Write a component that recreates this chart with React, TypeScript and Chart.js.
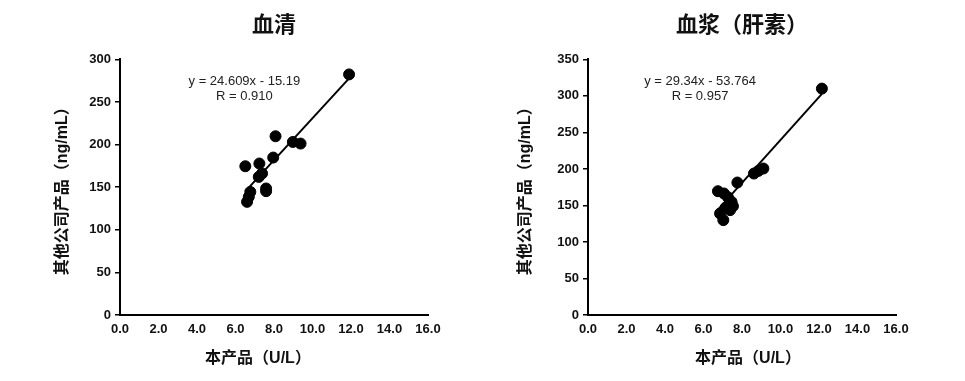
import React, { useEffect, useRef } from "react";
import { Chart, registerables } from "chart.js";

Chart.register(...registerables);

// ---- Data ----
const serumX = [6.51, 7.24, 8.08, 8.98, 9.38, 7.96, 7.38, 7.21, 7.59, 7.59, 6.77, 6.69, 6.6, 11.9];
const serumY = [174.6, 177.8, 209.8, 203.1, 201.2, 184.8, 166.1, 162.1, 148.5, 145.3, 144.5, 138.6, 132.8, 282.4];
const serumSlope = 24.609;
const serumIntercept = -15.19;
const serumEquation = "y = 24.609x - 15.19";
const serumR = "R = 0.910";

const plasmaX = [6.75, 7.06, 7.27, 7.46, 7.15, 7.38, 7.53, 6.86, 7.03, 7.76, 8.62, 8.85, 9.11, 12.15];
const plasmaY = [169.5, 166.4, 161.3, 154.9, 147, 143.6, 149, 139, 129.9, 181.4, 193.7, 197.3, 200.6, 310];
const plasmaSlope = 29.34;
const plasmaIntercept = -53.764;
const plasmaEquation = "y = 29.34x - 53.764";
const plasmaR = "R = 0.957";

const xMin = 0;
const xMax = 16;
const xStep = 2;
const yStep = 50;
const serumYMax = 300;
const plasmaYMax = 350;

const serumTitle = "血清";
const plasmaTitle = "血浆（肝素）";
const xTitle = "本产品（U/L）";
const yTitle = "其他公司产品（ng/mL）";

const FONT = "'Liberation Sans', 'Noto Sans CJK SC', Arial, sans-serif";
const TEXT = "#111";

const eqLabelPlugin = {
  id: "eqLabel",
  afterDatasetsDraw(chart: any, _args: any, opts: any) {
    if (!opts || !opts.lines) return;
    const { ctx, scales, chartArea } = chart;
    const xs = scales.x;
    const ys = scales.y;
    ctx.save();
    ctx.font = `13px ${FONT}`;
    ctx.fillStyle = "#222";
    ctx.textAlign = "center";
    ctx.textBaseline = "middle";
    opts.lines.forEach((t: string, i: number) => {
      ctx.fillText(t, xs.getPixelForValue(opts.x), ys.getPixelForValue(opts.y[i]));
    });
    // x-axis title, placed below the tick labels
    ctx.font = `bold 16px ${FONT}`;
    ctx.fillStyle = TEXT;
    ctx.fillText(opts.xTitle, (chartArea.left + chartArea.right) / 2 + opts.xTitleShift, chart.height - 22);
    ctx.restore();
  },
};

type Props = {
  title: string;
  xs: number[];
  ys: number[];
  slope: number;
  intercept: number;
  lines: string[];
  labelX: number;
  labelY: number[];
  yMax: number;
  left: number;
  width: number;
  padRight: number;
  yScaleWidth: number;
  yTitlePad: number;
  xTitleShift: number;
};

function Scatter(p: Props) {
  const ref = useRef<HTMLCanvasElement | null>(null);
  useEffect(() => {
    if (!ref.current) return;
    const pts = p.xs.map((x, i) => ({ x, y: p.ys[i] }));
    const lo = Math.min(...p.xs);
    const hi = Math.max(...p.xs);
    const trend = [
      { x: lo, y: p.slope * lo + p.intercept },
      { x: hi, y: p.slope * hi + p.intercept },
    ];
    const tickFont = { family: FONT, size: 13, weight: "bold" as const };
    const titleFont = { family: FONT, size: 16, weight: "bold" as const };
    const chart = new Chart(ref.current, {
      type: "scatter",
      data: {
        datasets: [
          {
            data: trend,
            showLine: true,
            borderColor: "#000",
            borderWidth: 2,
            pointRadius: 0,
            pointHoverRadius: 0,
          } as any,
          {
            data: pts,
            backgroundColor: "#000",
            borderColor: "#000",
            pointRadius: 5.5,
            pointHoverRadius: 5.5,
          },
        ],
      },
      options: {
        responsive: false,
        animation: false,
        layout: { padding: { left: 0, right: p.padRight, top: 0, bottom: 0 } },
        plugins: {
          legend: { display: false },
          tooltip: { enabled: false },
          title: {
            display: true,
            text: p.title,
            fullSize: false,
            color: TEXT,
            font: { family: FONT, size: 22, weight: "bold" },
            padding: { top: 13, bottom: 20 },
          },
          eqLabel: { lines: p.lines, x: p.labelX, y: p.labelY, xTitle, xTitleShift: p.xTitleShift },
        } as any,
        scales: {
          x: {
            type: "linear",
            min: xMin,
            max: xMax,
            ticks: {
              stepSize: xStep,
              autoSkip: false,
              maxRotation: 0,
              color: TEXT,
              font: tickFont,
              padding: 7,
              callback: (v: any) => Number(v).toFixed(1),
            },
            grid: { drawOnChartArea: false, drawTicks: false },
            border: { display: true, color: "#000", width: 2 },
            title: { display: false },
            afterFit: (s: any) => {
              s.height = 66;
            },
          },
          y: {
            type: "linear",
            min: 0,
            max: p.yMax,
            ticks: { stepSize: yStep, color: TEXT, font: tickFont, padding: 4 },
            grid: { drawOnChartArea: false, drawTicks: true, tickLength: 5, color: "#000", lineWidth: 1.5 },
            border: { display: true, color: "#000", width: 2 },
            title: {
              display: true,
              text: yTitle,
              color: TEXT,
              font: titleFont,
              padding: { top: p.yTitlePad, bottom: 0 },
            },
            afterFit: (s: any) => {
              s.width = p.yScaleWidth;
            },
          },
        },
      },
      plugins: [eqLabelPlugin],
    });
    return () => chart.destroy();
  }, []);
  return (
    <canvas
      ref={ref}
      width={p.width}
      height={381}
      style={{ position: "absolute", left: p.left, top: 0, width: p.width, height: 381 }}
    />
  );
}

export default function App() {
  return (
    <div style={{ position: "fixed", left: 0, top: 0, width: 965, height: 381, background: "#fff" }}>
      <Scatter
        title={serumTitle}
        xs={serumX}
        ys={serumY}
        slope={serumSlope}
        intercept={serumIntercept}
        lines={[serumEquation, serumR]}
        labelX={6.46}
        labelY={[274, 256.6]}
        yMax={serumYMax}
        left={0}
        width={482}
        padRight={54}
        yScaleWidth={120}
        yTitlePad={52.5}
        xTitleShift={-16}
      />
      <Scatter
        title={plasmaTitle}
        xs={plasmaX}
        ys={plasmaY}
        slope={plasmaSlope}
        intercept={plasmaIntercept}
        lines={[plasmaEquation, plasmaR]}
        labelX={5.82}
        labelY={[320, 299.4]}
        yMax={plasmaYMax}
        left={482}
        width={483}
        padRight={69}
        yScaleWidth={106}
        yTitlePad={33.5}
        xTitleShift={6}
      />
    </div>
  );
}
